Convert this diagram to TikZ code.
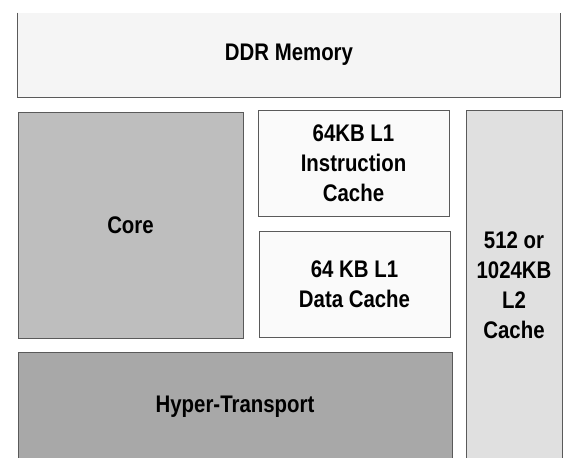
\documentclass[tikz,border=0pt]{standalone}
\usepackage{fontspec}
\setmainfont{Liberation Sans}[FakeStretch=0.85]
\usetikzlibrary{positioning}
\definecolor{ddrfill}{HTML}{F5F5F5}
\definecolor{corefill}{HTML}{BEBEBE}
\definecolor{lonefill}{HTML}{FAFAFA}
\definecolor{ltwofill}{HTML}{E0E0E0}
\definecolor{htfill}{HTML}{A8A8A8}
\definecolor{edgegray}{HTML}{5A5A5A}
\begin{document}
\begin{tikzpicture}[
        x=1pt, y=-1pt,
        block/.style={draw=edgegray, line width=0.9pt, inner sep=0pt, align=center,
            font=\bfseries\fontsize{24}{30}\selectfont},
        ddr/.style={block, draw=none, fill=ddrfill, minimum width=542pt, minimum height=84pt},
        core/.style={block, fill=corefill, minimum width=225pt, minimum height=226pt},
        lone/.style={block, fill=lonefill, minimum width=191pt, minimum height=106pt},
        ltwo/.style={block, fill=ltwofill, minimum width=96pt, minimum height=350pt},
        ht/.style={block, fill=htfill, minimum width=434pt, minimum height=110pt},
    ]
    \clip (0,0) rectangle (569,457);
    \fill[white] (0,0) rectangle (569,457);
    \node[ddr](mem) at (289,55){DDR Memory};
    \draw[edgegray, line width=0.9pt] (mem.north west) -- (mem.south west)
        -- (mem.south east) -- (mem.north east);
    \node[core](core) at (130.5,225){Core};
    \node[lone](icache) at (353.5,163){64KB L1\\Instruction\\Cache};
    \node[lone](dcache) at (354.5,284){64 KB L1\\Data Cache};
    \node[ltwo](ltwo) at (514,285){512 or\\1024KB\\L2\\Cache};
    \node[ht](ht) at (235,407){Hyper-Transport};
\end{tikzpicture}
\end{document}
